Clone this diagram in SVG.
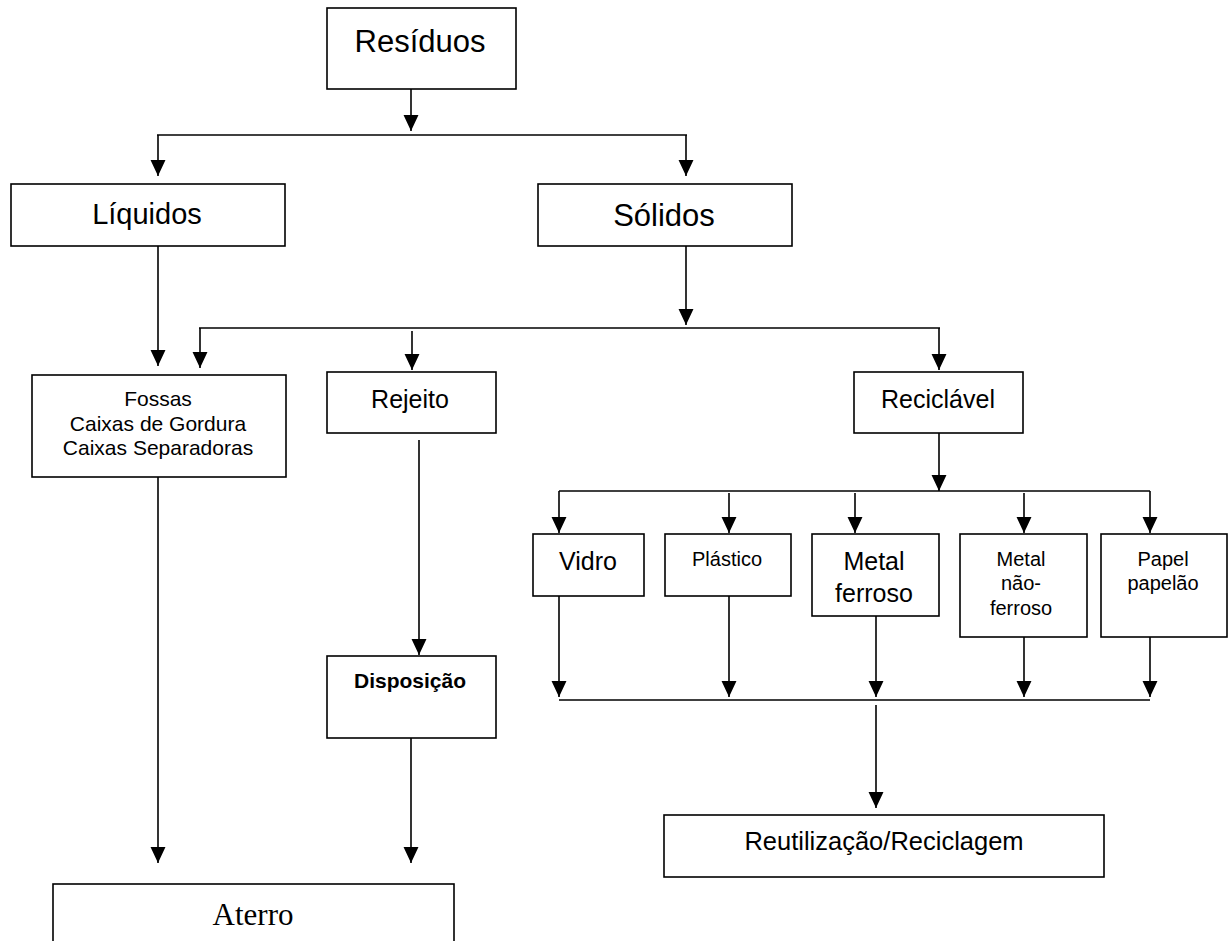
<svg xmlns="http://www.w3.org/2000/svg" width="1228" height="941" viewBox="0 0 1228 941">
<defs>
<marker id="ah" markerUnits="userSpaceOnUse" markerWidth="16" markerHeight="16" viewBox="0 0 15 14" refX="15" refY="7" orient="auto">
<path d="M0,0 L15,7 L0,14 Z" fill="#000"/>
</marker>
</defs>
<style>
.n rect{fill:#fff;stroke:#000;stroke-width:1.6}
.c line{stroke:#000;stroke-width:1.6}
.c line.a{marker-end:url(#ah)}
text{font-family:"Liberation Sans",Arial,sans-serif;fill:#000;text-anchor:middle}
</style>
<rect width="1228" height="941" fill="#fff"/>
<g class="c" id="connectors">
<line class="a" x1="411" y1="89" x2="411" y2="131"/>
<line x1="157" y1="135" x2="687" y2="135"/>
<line class="a" x1="158" y1="135" x2="158" y2="176"/>
<line class="a" x1="686" y1="135" x2="686" y2="176"/>
<line class="a" x1="158" y1="246" x2="158" y2="366"/>
<line class="a" x1="686" y1="246" x2="686" y2="325"/>
<line x1="199" y1="328" x2="940" y2="328"/>
<line class="a" x1="200" y1="328" x2="200" y2="368"/>
<line class="a" x1="412" y1="331" x2="412" y2="370"/>
<line class="a" x1="939" y1="328" x2="939" y2="370"/>
<line class="a" x1="419" y1="440" x2="419" y2="655"/>
<line class="a" x1="411" y1="738" x2="411" y2="863"/>
<line class="a" x1="158" y1="477" x2="158" y2="863"/>
<line class="a" x1="939" y1="433" x2="939" y2="491"/>
<line x1="559" y1="491" x2="1150" y2="491"/>
<line class="a" x1="559" y1="491" x2="559" y2="533"/>
<line class="a" x1="729" y1="493" x2="729" y2="533"/>
<line class="a" x1="855" y1="493" x2="855" y2="533"/>
<line class="a" x1="1024" y1="493" x2="1024" y2="533"/>
<line class="a" x1="1150" y1="491" x2="1150" y2="533"/>
<line class="a" x1="559" y1="596" x2="559" y2="697"/>
<line class="a" x1="729" y1="596" x2="729" y2="697"/>
<line class="a" x1="876" y1="616" x2="876" y2="697"/>
<line class="a" x1="1024" y1="637" x2="1024" y2="697"/>
<line class="a" x1="1150" y1="637" x2="1150" y2="697"/>
<line x1="559" y1="700" x2="1150" y2="700"/>
<line class="a" x1="876" y1="705" x2="876" y2="808"/>
</g>
<g class="n" id="residuos"><rect x="327" y="8" width="189" height="81"/><text x="420" y="52" font-size="31">Resíduos</text></g>
<g class="n" id="liquidos"><rect x="11" y="184" width="274" height="62"/><text x="147" y="224" font-size="29">Líquidos</text></g>
<g class="n" id="solidos"><rect x="538" y="184" width="254" height="62"/><text x="664" y="226" font-size="31">Sólidos</text></g>
<g class="n" id="fossas"><rect x="32" y="375" width="254" height="102"/><text x="158" y="406" font-size="21">Fossas</text><text x="158" y="431" font-size="21">Caixas de Gordura</text><text x="158" y="455" font-size="21">Caixas Separadoras</text></g>
<g class="n" id="rejeito"><rect x="327" y="372" width="169" height="61"/><text x="410" y="408" font-size="25">Rejeito</text></g>
<g class="n" id="reciclavel"><rect x="854" y="372" width="169" height="61"/><text x="938" y="408" font-size="25">Reciclável</text></g>
<g class="n" id="disposicao"><rect x="327" y="656" width="169" height="82"/><text x="410" y="688" font-size="21" font-weight="bold">Disposição</text></g>
<g class="n" id="vidro"><rect x="533" y="534" width="111" height="62"/><text x="588" y="570" font-size="25">Vidro</text></g>
<g class="n" id="plastico"><rect x="665" y="534" width="126" height="62"/><text x="727" y="566" font-size="20">Plástico</text></g>
<g class="n" id="metalferroso"><rect x="812" y="534" width="127" height="82"/><text x="874" y="570" font-size="25">Metal</text><text x="874" y="602" font-size="25">ferroso</text></g>
<g class="n" id="metalnaoferroso"><rect x="960" y="534" width="127" height="103"/><text x="1021" y="566" font-size="20">Metal</text><text x="1021" y="590" font-size="20">não-</text><text x="1021" y="615" font-size="20">ferroso</text></g>
<g class="n" id="papel"><rect x="1101" y="534" width="126" height="103"/><text x="1163" y="566" font-size="20">Papel</text><text x="1163" y="590" font-size="20">papelão</text></g>
<g class="n" id="reutilizacao"><rect x="664" y="815" width="440" height="62"/><text x="884" y="850" font-size="25.5">Reutilização/Reciclagem</text></g>
<g class="n" id="aterro"><rect x="53" y="884" width="401" height="80"/><text x="253" y="925" font-size="31" style="font-family:'Liberation Serif','Times New Roman',serif">Aterro</text></g>
</svg>
